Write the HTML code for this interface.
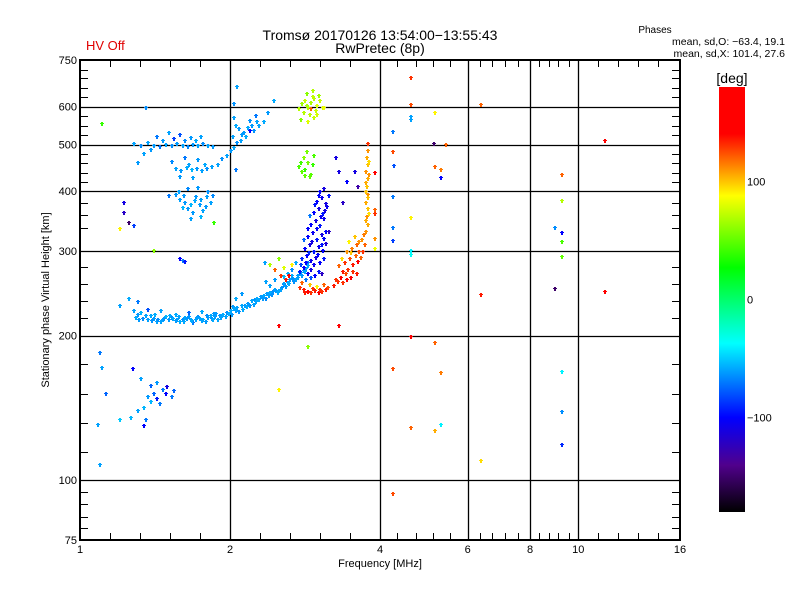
<!DOCTYPE html>
<html><head><meta charset="utf-8"><style>
html,body{margin:0;padding:0;background:#fff;}
svg{display:block;font-family:"Liberation Sans",sans-serif;}
</style></head><body>
<svg id="chart" width="800" height="600" viewBox="0 0 800 600" xmlns="http://www.w3.org/2000/svg">
<rect width="800" height="600" fill="#fff"/>
<text x="380" y="40" font-size="14" text-anchor="middle">Tromsø 20170126 13:54:00−13:55:43</text>
<text x="380" y="53" font-size="14" text-anchor="middle">RwPretec (8p)</text>
<text x="86" y="50" font-size="13" fill="#e00000">HV Off</text>
<text x="655" y="33" font-size="10" text-anchor="middle">Phases</text>
<text x="785" y="45" font-size="10.5" text-anchor="end">mean, sd,O: −63.4, 19.1</text>
<text x="785" y="57" font-size="10.5" text-anchor="end">mean, sd,X: 101.4, 27.6</text>
<g id="grid"></g>
<g id="points"></g>
<g id="axes"></g>
<defs>
<linearGradient id="cmap" x1="0" y1="1" x2="0" y2="0">
<stop offset="0" stop-color="#000000"/>
<stop offset="0.11" stop-color="#50008c"/>
<stop offset="0.222" stop-color="#0000ff"/>
<stop offset="0.397" stop-color="#00ffff"/>
<stop offset="0.575" stop-color="#00ff00"/>
<stop offset="0.744" stop-color="#ffff00"/>
<stop offset="0.89" stop-color="#ff0000"/>
<stop offset="1" stop-color="#ff0000"/>
</linearGradient>
</defs>
<rect x="719" y="87" width="26" height="425" fill="url(#cmap)"/>
<text x="732" y="83" font-size="14" text-anchor="middle">[deg]</text>
<g id="cbticks"></g>
<text x="380" y="567" font-size="11" text-anchor="middle">Frequency [MHz]</text>
<text transform="translate(49,300) rotate(-90)" font-size="11" text-anchor="middle">Stationary phase Virtual Height [km]</text>
</svg>
<script>
// ---- data ----
const xTickValues = [1, 2, 4, 6, 8, 10, 16];
const xTickLabels = ["1", "2", "4", "6", "8", "10", "16"];
const xGridValues = [2, 4, 6, 8, 10];
const yTickValues = [750, 600, 500, 400, 300, 200, 100, 75];
const yTickLabels = ["750", "600", "500", "400", "300", "200", "100", "75"];
const yGridValues = [600, 500, 400, 300, 200, 100];
const cbTickValues = [100, 0, -100];
const cbTickLabels = ["100", "0", "−100"];

const oLowerTrace = [
[1.28,226,-60],[1.30,222,-62],[1.32,224,-55],[1.33,218,-65],[1.36,217,-60],[1.38,221,-58],[1.40,218,-62],[1.42,214,-60],[1.43,216,-65],[1.46,217,-60],[1.48,220,-55],[1.50,216,-62],[1.52,219,-66],[1.53,218,-58],[1.56,217,-61],[1.58,214,-57],[1.60,216,-64],[1.62,219,-59],[1.63,218,-62],[1.66,217,-58],[1.68,213,-70],[1.70,216,-60],[1.72,220,-64],[1.73,218,-59],[1.76,217,-57],[1.78,214,-62],[1.80,219,-60],[1.82,221,-58],[1.83,218,-64],[1.86,220,-61],[1.88,217,-59],[1.90,221,-62],[1.93,222,-58],[1.95,220,-60],[1.96,224,-64],[2.00,226,-59],[2.02,230,-62],[2.03,228,-58],[2.06,229,-60],[2.08,225,-64],[2.10,231,-59],[2.13,232,-61],[2.15,230,-58],[2.16,234,-62],[2.20,237,-59],[2.23,238,-64],[2.25,236,-60],[2.26,240,-58],[2.30,242,-62],[2.33,243,-59],[2.35,240,-66],[2.36,245,-61],[2.40,247,-58],[2.43,248,-64],[2.45,250,-60],[2.46,249,-62],[2.50,249,-59],[2.53,253,-64],[2.55,256,-68],[2.56,257,-61],[2.60,259,-59],[2.63,262,-62],[2.65,267,-58],[2.66,264,-64],[2.70,262,-60],[2.73,268,-62],[2.75,271,-68],[2.76,271,-59],[2.80,274,-64],[2.83,277,-61],[2.85,285,-70],[2.86,281,-59],
[1.29,219,-58],[1.31,216,-62],[1.35,221,-60],[1.39,215,-64],[1.41,222,-57],[1.45,214,-60],[1.47,218,-63],[1.51,221,-58],[1.55,215,-62],[1.57,220,-60],[1.61,214,-59],[1.65,220,-63],[1.67,215,-58],[1.71,219,-61],[1.75,215,-60],[1.79,221,-64],[1.84,216,-58],[1.87,223,-62],[1.91,219,-60],[1.98,223,-58],[2.01,222,-62],[2.05,226,-60],[2.11,227,-58],[2.18,232,-63],[2.22,233,-60],[2.28,238,-58],[2.32,239,-62],[2.38,243,-60],[2.42,244,-64],[2.48,246,-58],[2.52,250,-60],[2.58,254,-62],[2.62,257,-58],[2.68,260,-64],[2.72,265,-60],[2.78,268,-62],[2.82,272,-58],
[1.20,232,-60],[1.25,240,-58],[1.30,236,-70],[1.36,227,-80],[1.45,226,-60],[1.55,222,-58],[1.65,224,-75],[1.75,225,-58],[1.85,223,-62],[2.05,240,-58],[2.10,245,-62],[2.35,260,-60],[2.45,262,-62],[2.60,270,-58],[2.70,285,-58],[2.55,266,-55],[2.65,275,-65],[2.40,255,-60]
];
const oBlueCluster = [
[2.75,272,-95],[2.80,278,-100],[2.85,270,-105],[2.90,275,-110],[2.95,268,-100],[3.00,272,-95],[3.05,270,-120],[2.78,290,-90],[2.84,295,-100],[2.90,288,-105],[2.96,292,-110],[3.02,285,-100],[3.08,290,-95],[2.82,305,-100],[2.88,310,-110],[2.94,300,-95],[3.00,308,-105],[3.06,302,-100],[3.10,312,-115],[2.86,322,-100],[2.92,328,-105],[2.98,318,-95],[3.04,325,-110],[3.10,330,-100],[2.90,342,-100],[2.96,348,-110],[3.02,340,-95],[3.08,352,-105],[2.94,362,-100],[3.00,368,-110],[3.06,360,-95],[3.12,372,-105],[2.98,382,-100],[3.04,388,-105],[3.10,378,-110],[3.02,400,-100],[3.08,405,-110],[3.14,392,-95],[2.88,356,-70],[2.80,318,-75],[3.15,330,-120],
[2.77,282,-85],[2.83,284,-100],[2.87,298,-90],[2.93,282,-105],[2.99,296,-100],[3.04,310,-95],[2.85,335,-100],[2.91,315,-110],[2.97,335,-100],[3.03,355,-105],[3.07,320,-100],[2.95,375,-95],[3.01,392,-100],[3.09,365,-110],[2.89,265,-80],[2.83,262,-70]
];
const xOrangeTrace = [
[2.75,252,130],[2.80,250,135],[2.85,248,140],[2.90,247,130],[2.95,249,135],[3.00,246,140],[3.05,248,130],[3.10,250,135],[2.78,258,120],[2.88,256,100],[2.98,254,90],[3.08,256,120],[2.82,246,135],[2.92,251,130],[3.02,250,130],[3.13,253,125],
[3.22,255,135],[3.28,260,130],[3.32,265,140],[3.36,258,130],[3.40,270,125],[3.44,275,130],[3.48,265,140],[3.30,280,120],[3.38,285,130],[3.46,290,125],[3.52,282,135],[3.56,295,120],[3.42,300,110],[3.50,305,115],[3.58,310,120],[3.62,300,125],[3.66,318,110],[3.70,325,115],[3.34,290,95],[3.45,315,90],[3.55,322,100],[3.60,286,140],[3.68,300,130],[3.72,310,120],[3.25,262,130],[3.35,272,135],[3.42,262,140],[3.52,272,130],[3.64,292,120],[3.58,270,135],[3.48,298,100],[3.62,315,110],
[3.74,330,110],[3.76,342,105],[3.75,355,110],[3.77,368,100],[3.74,380,105],[3.76,395,110],[3.75,410,100],[3.77,425,105],[3.74,440,110],[3.76,455,100],[3.75,470,105],[3.76,488,110],[3.77,503,130],[3.78,360,95],[3.73,400,100],[3.78,435,110],[3.73,348,105],[3.77,388,100],[3.74,418,105],[3.78,462,95]
];
const upperCyan = [
[1.28,503,-60],[1.32,498,-65],[1.36,505,-60],[1.40,500,-62],[1.44,497,-70],[1.48,502,-60],[1.52,499,-65],[1.56,504,-62],[1.60,500,-60],[1.64,496,-66],[1.68,502,-62],[1.72,498,-60],[1.76,503,-65],[1.80,500,-60],[1.84,497,-62],[1.42,520,-70],[1.50,530,-60],[1.58,525,-80],[1.66,518,-62],[1.74,522,-60],[1.54,515,-85],[1.62,512,-65],[1.34,480,-60],[1.30,460,-62],[1.46,510,-62],[1.70,510,-58],[1.38,490,-62],
[1.55,446,-60],[1.59,442,-62],[1.63,448,-58],[1.67,444,-55],[1.71,447,-62],[1.75,443,-60],[1.79,447,-64],[1.83,450,-60],[1.52,462,-66],[1.62,470,-70],[1.72,466,-62],[1.58,430,-62],[1.68,428,-60],[1.65,455,-60],[1.77,455,-58],
[1.55,395,-62],[1.58,385,-60],[1.62,380,-62],[1.66,375,-55],[1.70,390,-62],[1.74,385,-60],[1.78,372,-62],[1.82,380,-60],[1.60,370,-55],[1.68,362,-62],[1.76,365,-60],[1.64,405,-66],[1.72,408,-62],[1.80,400,-64],[1.66,352,-60],[1.74,355,-55],[1.50,392,-70],[1.84,392,-66],[1.57,400,-60],[1.61,392,-62],[1.69,383,-58],[1.73,375,-62],[1.79,390,-60],[1.64,368,-62],
[1.88,455,-60],[1.92,468,-64],[1.96,475,-60],[2.00,487,-62],[2.03,495,-58],[2.06,505,-64],[2.09,511,-60],[2.12,530,-62],[2.16,545,-58],[2.18,562,-64],[2.03,570,-60],[2.08,540,-62],[2.14,520,-58],[2.22,535,-64],[2.28,548,-60],[2.33,560,-58],[2.37,584,-62],[2.44,618,-58],[2.06,661,-60],[2.03,611,-64],[2.24,575,-70],[2.02,520,-60],[2.10,525,-62],[2.05,550,-58],[2.20,550,-62],[2.26,560,-60]
];
const greenUpper = [
[2.74,595,70],[2.78,610,65],[2.82,620,75],[2.86,600,70],[2.90,612,68],[2.94,625,72],[2.98,605,80],[3.02,618,75],[3.06,598,78],[2.80,585,70],[2.88,580,72],[2.96,590,75],[2.84,640,60],[2.92,650,70],[3.00,635,65],[2.76,565,60],[2.86,560,80],[2.94,570,75],[3.08,600,85],[2.90,595,120],[2.84,605,68],[2.92,630,72],[2.98,578,78]
];
const greenMiddle = [
[2.74,450,45],[2.78,440,50],[2.82,445,40],[2.86,460,55],[2.90,435,48],[2.94,475,45],[2.80,470,60],[2.88,430,50],[2.84,485,55],[2.92,455,40],[2.76,460,42],[2.82,432,50]
];
const lowerLeft = [
[1.09,185,-70],[1.10,172,-60],[1.12,152,-75],[1.08,131,-60],[1.09,108,-60],[1.27,171,-100],[1.32,163,-60],[1.20,134,-50],[1.35,134,-70],[1.34,130,-100],[1.49,157,-110],[1.54,154,-75],[1.52,150,-70],[1.36,150,-62],[1.38,146,-55],[1.40,152,-75],[1.42,148,-95],[1.44,145,-70],[1.30,140,-60],[1.34,142,-55],[1.26,135,-55],[1.46,155,-70],[1.38,158,-75],[1.42,160,-62],[1.48,152,-100],[1.58,290,-100],[1.60,288,-70],[1.62,286,-95]
];
const scattered = [
[4.59,691,130],[4.59,607,125],[5.13,584,90],[4.59,573,-60],[4.59,565,-60],[4.23,533,-70],[5.11,503,-150],[5.40,501,120],[6.35,607,120],[11.26,511,150],[3.89,438,150],[4.23,485,125],[4.25,453,-80],[5.13,450,120],[5.28,445,115],[5.28,428,-100],[9.23,435,120],[4.23,391,-70],[3.89,367,120],[3.89,360,130],[4.59,353,90],[4.23,337,-70],[4.23,317,-85],[3.89,319,110],[3.89,305,85],[4.59,302,-40],[4.59,296,-35],[9.23,383,70],[8.94,337,-65],[9.23,329,-100],[9.23,315,45],[9.23,293,50],[8.94,251,-150],[11.26,248,150],[6.35,244,135],[4.59,200,140],[5.13,194,120],[4.23,171,125],[5.28,168,115],[9.23,169,-40],[9.23,139,-65],[9.23,119,-90],[5.28,131,-40],[4.59,129,120],[5.13,127,105],[6.35,110,95],[4.23,94,125],
[1.10,555,40],[1.35,600,-65],[1.22,380,-110],[1.22,362,-120],[1.25,345,-150],[1.20,335,90],[1.28,340,-85],[1.85,345,40],[2.50,155,90],[2.50,210,150],[3.30,210,140],[2.85,190,60],[3.30,440,-110],[3.36,380,-120],[3.42,420,-100],[3.55,440,-110],[3.60,410,-130],[3.25,470,-110],[2.45,275,120],[2.50,290,60],[2.52,268,130],[2.55,278,80],[2.58,262,135],[2.65,282,90],[2.62,268,140],[2.40,282,70],[2.05,445,-70],[2.18,535,-100],[1.40,302,60],[2.34,285,-60]
];

// ---- scales ----
const X0 = 80, X1 = 680, Y0 = 60, Y1 = 540;
function xScale(f) { return X0 + (X1 - X0) * Math.log2(f / 1) / 4; }
function yScale(h) { return Y0 + (Y1 - Y0) * Math.log10(750 / h) / 1; }
function cbScale(p) { return 512 - (p + 180) / 360 * 425; }
const cmapStops = [[-180,[0,0,0]],[-140,[80,0,140]],[-100,[0,0,255]],[-37,[0,255,255]],[27,[0,255,0]],[88,[255,255,0]],[140,[255,0,0]],[180,[255,0,0]]];
function phaseColor(p) {
  for (let i = 1; i < cmapStops.length; i++) {
    if (p <= cmapStops[i][0]) {
      const a = cmapStops[i-1], b = cmapStops[i];
      const t = (p - a[0]) / (b[0] - a[0]);
      const c = a[1].map((v, k) => Math.round(v + (b[1][k] - v) * t));
      return `rgb(${c[0]},${c[1]},${c[2]})`;
    }
  }
  return "rgb(255,0,0)";
}

const NS = "http://www.w3.org/2000/svg";
function mk(tag, attrs, parent) {
  const e = document.createElementNS(NS, tag);
  for (const k in attrs) e.setAttribute(k, attrs[k]);
  parent.appendChild(e);
  return e;
}
const grid = document.getElementById("grid");
const axes = document.getElementById("axes");
const pts = document.getElementById("points");
const cbt = document.getElementById("cbticks");

xGridValues.forEach(v => {
  const x = Math.round(xScale(v)) + 0.5;
  const l = mk("line", {x1: x, x2: x, y1: Y0, y2: Y1, stroke: "#000", "stroke-width": 1.3}, grid);
  
  
});
yGridValues.forEach(v => {
  const y = Math.round(yScale(v)) + 0.5;
  const l = mk("line", {x1: X0, x2: X1, y1: y, y2: y, stroke: "#000", "stroke-width": 1.3}, grid);
  
  
});

function drawCluster(arr, name) {
  arr.forEach(d => {
    const x = Math.round(xScale(d[0])), y = Math.round(yScale(d[1]));
    const g = mk("g", {fill: phaseColor(d[2]), "shape-rendering": "crispEdges"}, pts);
    
    
    mk("rect", {x: x - 1, y: y, width: 4, height: 1}, g);
    mk("rect", {x: x, y: y - 1, width: 2, height: 4}, g);
  });
}
drawCluster(oLowerTrace, "o-lower-trace-point");
drawCluster(oBlueCluster, "o-blue-cluster-point");
drawCluster(xOrangeTrace, "x-trace-point");
drawCluster(upperCyan, "upper-echo-point");
drawCluster(greenUpper, "green-upper-point");
drawCluster(greenMiddle, "green-middle-point");
drawCluster(lowerLeft, "lower-left-point");
drawCluster(scattered, "scattered-point");

const fr = mk("rect", {x: X0, y: Y0, width: X1 - X0, height: Y1 - Y0, fill: "none", stroke: "#000", "stroke-width": 2}, axes);



const xMinorPx = [110,140,170,200,260,290,320,350,397,416,433,450,480,492,505,518,539,549,558,569,598,618,638,658];
xMinorPx.forEach(x => {
  mk("line", {x1: x + 0.5, x2: x + 0.5, y1: Y0, y2: Y0 + 7, stroke: "#000"}, axes);
  mk("line", {x1: x + 0.5, x2: x + 0.5, y1: Y1, y2: Y1 - 7, stroke: "#000"}, axes);
});
const yMinorPx = [70,78,88,97,116,126,135,154,163,173,182,203,215,228,267,284,301,318,364,394,423,452,492,504,517,528];
yMinorPx.forEach(y => {
  mk("line", {x1: X0, x2: X0 + 8, y1: y + 0.5, y2: y + 0.5, stroke: "#000"}, axes);
  mk("line", {x1: X1, x2: X1 - 8, y1: y + 0.5, y2: y + 0.5, stroke: "#000"}, axes);
});

xTickValues.forEach((v, i) => {
  const t = mk("text", {x: xScale(v), y: 553, "font-size": 11, "text-anchor": "middle"}, axes);
  t.textContent = xTickLabels[i];
  
  
});
yTickValues.forEach((v, i) => {
  const t = mk("text", {x: 77, y: yScale(v) + 4, "font-size": 11, "text-anchor": "end"}, axes);
  t.textContent = yTickLabels[i];
  
  
});
cbTickValues.forEach((v, i) => {
  const t = mk("text", {x: 747, y: cbScale(v) + 4, "font-size": 11}, cbt);
  t.textContent = cbTickLabels[i];
  
  
});
</script>
</body></html>
